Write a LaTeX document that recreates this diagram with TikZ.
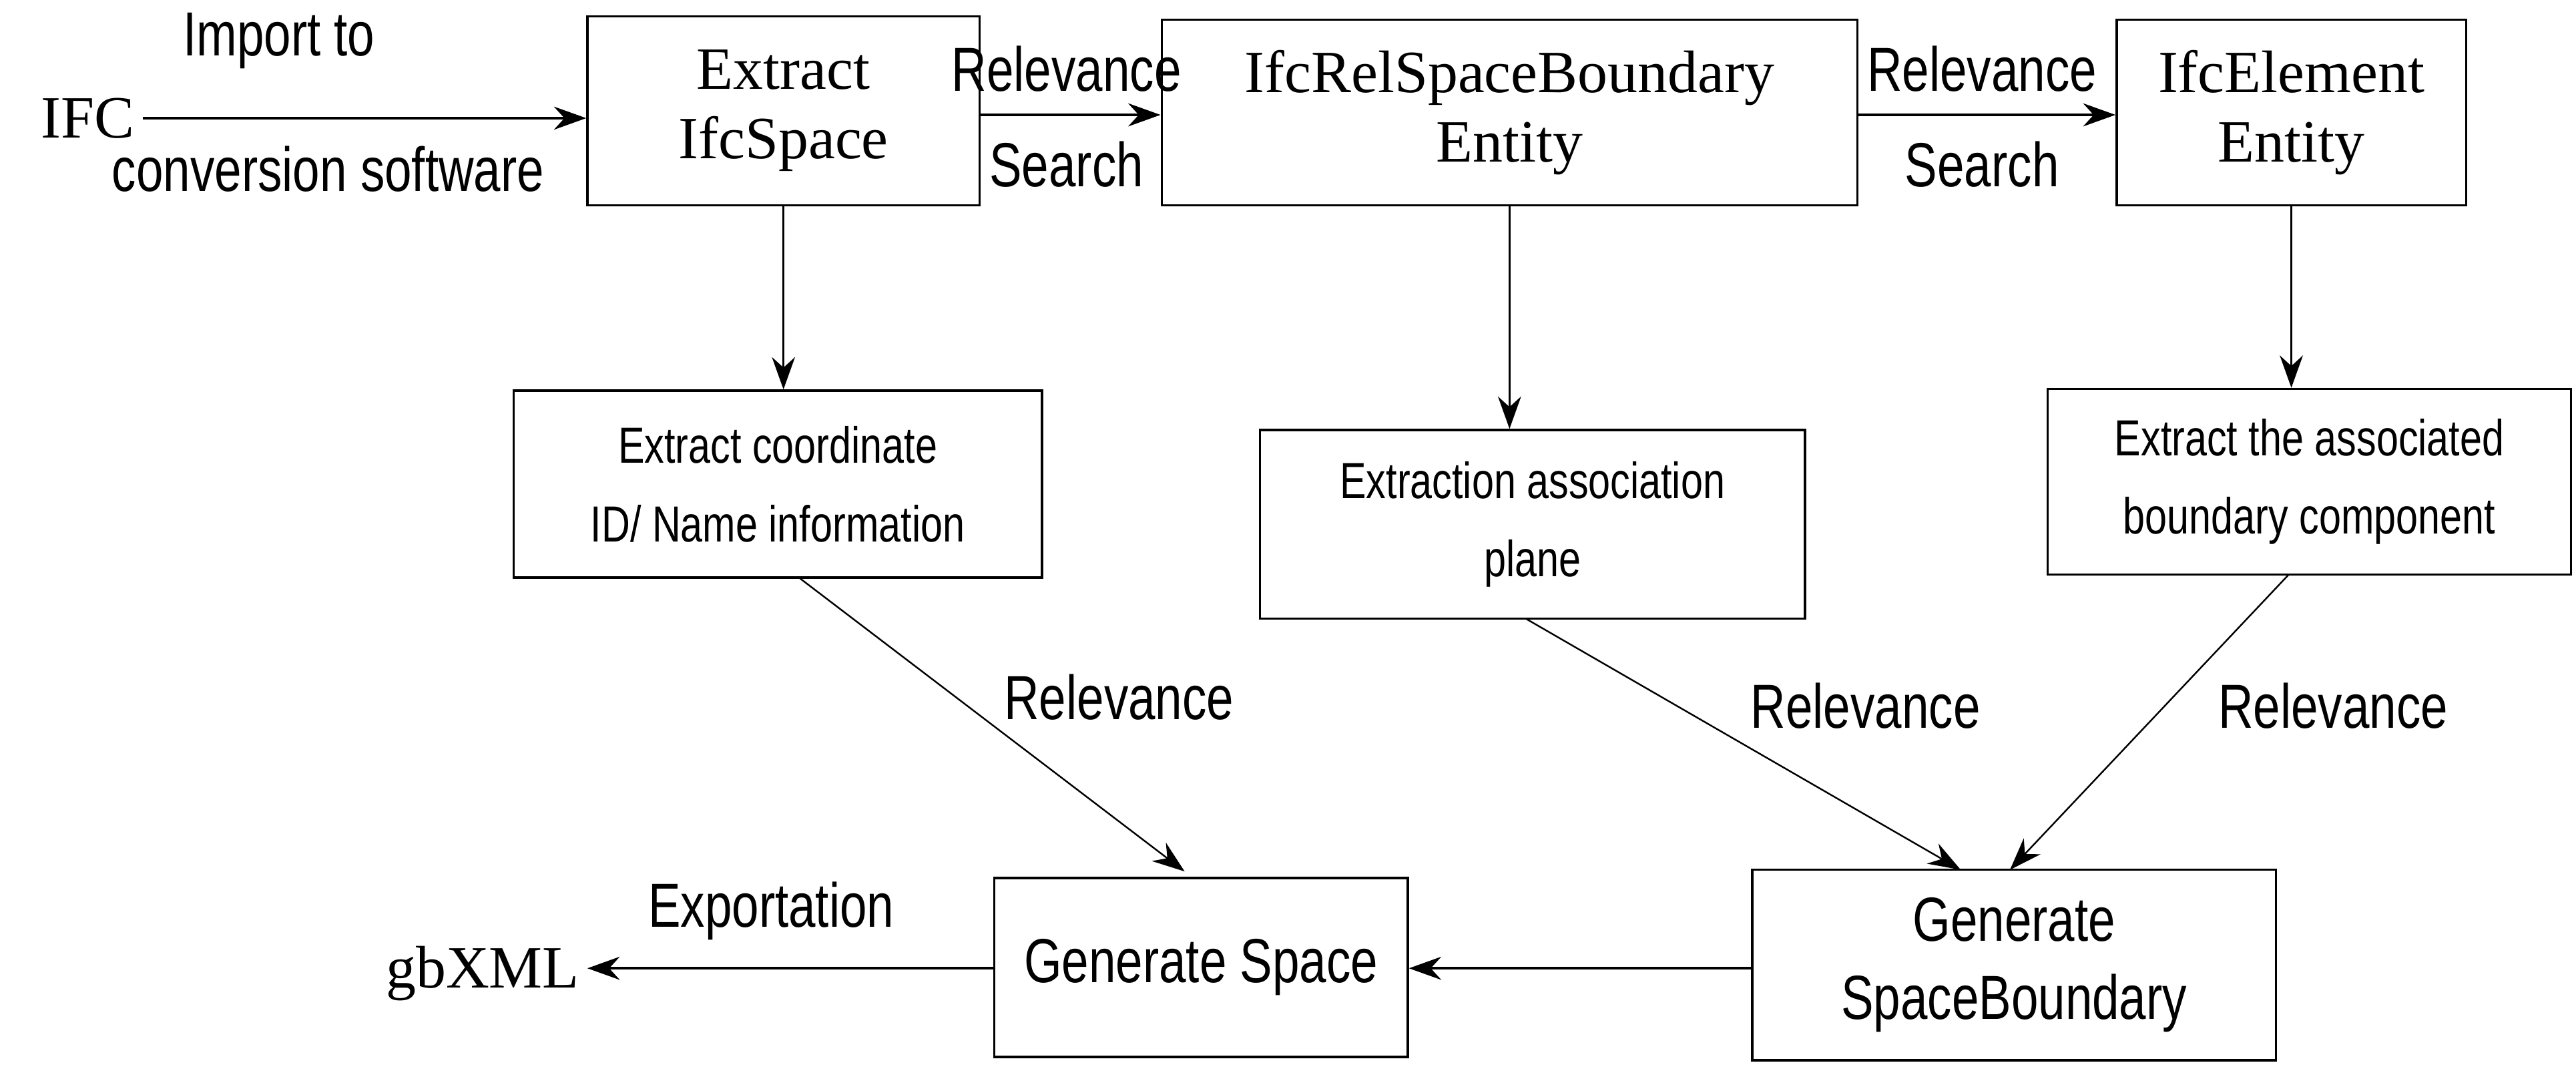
\documentclass[tikz,border=0pt]{standalone}
\usepackage{fontspec}
\setmainfont{Liberation Serif}
\newfontfamily\narrow{Liberation Sans}[FakeStretch=0.78]
\usetikzlibrary{arrows.meta}
\begin{document}
\begin{tikzpicture}[x=0.025cm,y=-0.025cm,
  box/.style={draw,line width=1pt,inner sep=0pt,align=center},
  ser/.style={font=\fontsize{26}{30}\selectfont},
  nar/.style={font=\narrow\fontsize{27}{34}\selectfont},
  sm/.style={font=\narrow\fontsize{22}{34}\selectfont},
  arr/.style={-{Stealth[length=14pt,width=10pt]},line width=1pt}]
\useasboundingbox (0,0) rectangle (1570,662);
\node[box,ser,minimum width=239*0.025cm,minimum height=115*0.025cm] (b1) at (477.5,67.5) {Extract\\IfcSpace};
\node[box,ser,minimum width=424*0.025cm,minimum height=113*0.025cm] (b2) at (920,68.5) {IfcRelSpaceBoundary\\Entity};
\node[box,ser,minimum width=213*0.025cm,minimum height=113*0.025cm] (b3) at (1396.5,68.5) {IfcElement\\Entity};
\node[box,sm,minimum width=322*0.025cm,minimum height=114*0.025cm] (c1) at (474,295) {Extract coordinate\\ID/ Name information};
\node[box,sm,minimum width=332*0.025cm,minimum height=115*0.025cm] (c2) at (934,319.5) {Extraction association\\plane};
\node[box,sm,minimum width=319*0.025cm,minimum height=113*0.025cm] (c3) at (1407.5,293.5) {Extract the associated\\boundary component};
\node[box,nar,minimum width=252*0.025cm,minimum height=109*0.025cm] (g1) at (732,589.5) {Generate Space};
\node[box,nar,minimum width=319*0.025cm,minimum height=116*0.025cm] (g2) at (1227.5,588) {Generate\\SpaceBoundary};
\node[ser,anchor=east] (ifc) at (87,72) {IFC};
\node[ser,anchor=east] (gb) at (358,593) {gbXML};
\node[nar] at (170,25) {Import to};
\node[nar] at (200,103) {conversion software};
\node[nar] at (650,42) {Relevance};
\node[nar] at (650,100) {Search};
\node[nar] at (1208,42) {Relevance};
\node[nar] at (1208,100) {Search};
\node[nar] at (682,425) {Relevance};
\node[nar] at (1137,430) {Relevance};
\node[nar] at (1422,430) {Relevance};
\node[nar] at (470,555) {Exportation};
\draw[arr] (ifc.east) -- (b1.west|-ifc.east);
\draw[arr] (b1.east|-0,70) -- (b2.west|-0,70);
\draw[arr] (b2.east|-0,70) -- (b3.west|-0,70);
\draw[arr] (b1.south) -- (c1.north-|b1.south);
\draw[arr] (b2.south) -- (c2.north-|b2.south);
\draw[arr] (b3.south) -- (c3.north-|b3.south);
\draw[arr,line width=0.7pt] (487,352) -- (722,531);
\draw[arr,line width=0.7pt] (930,377) -- (1195,530);
\draw[arr,line width=0.7pt] (1395,350) -- (1225,530);
\draw[arr] (g2.west|-0,590) -- (g1.east|-0,590);
\draw[arr] (g1.west|-0,590) -- (gb.east|-0,590);
\end{tikzpicture}
\end{document}
